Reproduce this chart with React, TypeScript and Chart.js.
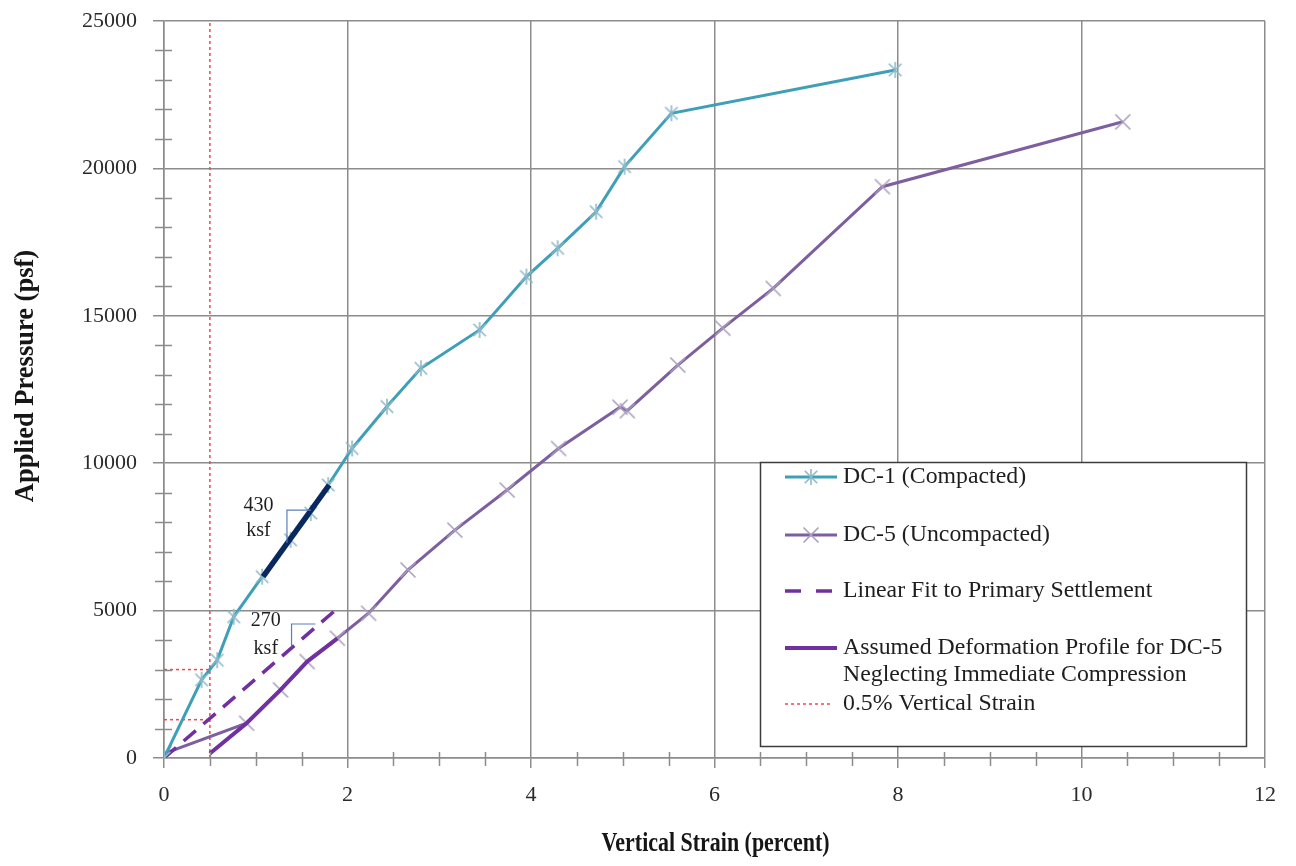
import React, { useEffect, useRef } from "react";
import { Chart, registerables } from "chart.js";

Chart.register(...registerables);

// ---------- data ----------
const dc1Strain = [0, 0.41, 0.58, 0.76, 1.07, 1.38, 1.6, 1.79, 2.05, 2.43, 2.8, 3.44, 3.95, 4.29, 4.71, 5.02, 5.53, 7.97];
const dc1Pressure = [0, 2650, 3320, 4790, 6150, 7400, 8310, 9260, 10500, 11920, 13220, 14520, 16330, 17290, 18530, 20060, 21870, 23340];

const dc5Strain = [0, 0.9, 1.27, 1.56, 1.89, 2.23, 2.66, 3.17, 3.74, 4.3, 4.97, 5.05, 5.6, 6.09, 6.64, 7.83, 10.45];
const dc5Pressure = [150, 1180, 2310, 3270, 4060, 4910, 6380, 7730, 9090, 10500, 11900, 11780, 13330, 14580, 15930, 19380, 21580];

const fitStrain = [0, 1.9];
const fitPressure = [0, 5100];

const assumedStrain = [0.5, 0.9, 1.27, 1.56, 1.89];
const assumedPressure = [150, 1180, 2310, 3270, 4060];

const stiffStrain = [1.08, 1.8];
const stiffPressure = [6150, 9260];

const vLineStrain = [0.5, 0.5];
const vLinePressure = [0, 25000];
const hLineHighStrain = [0, 0.5];
const hLineHighPressure = [3000, 3000];
const hLineLowStrain = [0, 0.5];
const hLineLowPressure = [1300, 1300];

const bracket430Strain = [1.34, 1.34, 1.6];
const bracket430Pressure = [7300, 8410, 8410];
const bracket270Strain = [1.39, 1.39, 1.65];
const bracket270Pressure = [3780, 4545, 4545];

const xTicks = [0, 2, 4, 6, 8, 10, 12];
const yTicks = [0, 5000, 10000, 15000, 20000, 25000];

const xTitle = "Vertical Strain (percent)";
const yTitle = "Applied Pressure (psf)";

const legendLabels = [
  ["DC-1 (Compacted)"],
  ["DC-5 (Uncompacted)"],
  ["Linear Fit to Primary Settlement"],
  ["Assumed Deformation Profile for DC-5", "Neglecting Immediate Compression"],
  ["0.5% Vertical Strain"],
];

const slopeNotes = [
  { x: 1.03, y: 8560, text: "430" },
  { x: 1.03, y: 7720, text: "ksf" },
  { x: 1.11, y: 4660, text: "270" },
  { x: 1.11, y: 3720, text: "ksf" },
];

// ---------- styles ----------
const C_DC1 = "#3f9fb7";
const C_DC1_MK = "#8db9c8";
const C_DC5 = "#7d5f9f";
const C_DC5_MK = "#ab9fbd";
const C_PURPLE = "#7030a0";
const C_NAVY = "#0a2860";
const C_RED = "#f04848";
const C_BRACKET = "#5a7fb8";
const C_GRID = "#8c8c8c";
const FONT = "'Liberation Serif', 'Times New Roman', serif";

const pts = (xs: number[], ys: number[]) => xs.map((x, i) => ({ x, y: ys[i] }));

function makeStar(color: string, size: number) {
  const c = document.createElement("canvas");
  c.width = size;
  c.height = size;
  const g = c.getContext("2d")!;
  g.strokeStyle = color;
  g.lineWidth = 1.6;
  const m = size / 2;
  const r = size / 2 - 1;
  g.beginPath();
  g.moveTo(m, m - r);
  g.lineTo(m, m + r);
  const d = r * 0.78;
  g.moveTo(m - d, m - d);
  g.lineTo(m + d, m + d);
  g.moveTo(m + d, m - d);
  g.lineTo(m - d, m + d);
  g.stroke();
  return c;
}

function makeX(color: string, size: number) {
  const c = document.createElement("canvas");
  c.width = size;
  c.height = size;
  const g = c.getContext("2d")!;
  g.strokeStyle = color;
  g.lineWidth = 1.6;
  const m = size / 2;
  const d = size / 2 - 1.5;
  g.beginPath();
  g.moveTo(m - d, m - d);
  g.lineTo(m + d, m + d);
  g.moveTo(m + d, m - d);
  g.lineTo(m - d, m + d);
  g.stroke();
  return c;
}

export default function App() {
  const ref = useRef<HTMLCanvasElement | null>(null);

  useEffect(() => {
    if (!ref.current) return;
    const star = makeStar(C_DC1_MK, 18);
    const xmk = makeX(C_DC5_MK, 18);

    const minorTicks = {
      id: "minorTicks",
      afterDatasetsDraw(chart: any) {
        const { ctx, scales } = chart;
        const xs = scales.x;
        const ys = scales.y;
        ctx.save();
        ctx.strokeStyle = C_GRID;
        ctx.lineWidth = 1.5;
        ctx.beginPath();
        for (let v = 0.5; v < 12; v += 0.5) {
          if (Math.abs(v % 2) < 1e-6) continue;
          const px = Math.round(xs.getPixelForValue(v)) + 0.5;
          ctx.moveTo(px, ys.bottom - 6);
          ctx.lineTo(px, ys.bottom + 8);
        }
        for (let v = 1000; v < 25000; v += 1000) {
          if (v % 5000 === 0) continue;
          const py = Math.round(ys.getPixelForValue(v)) + 0.5;
          ctx.moveTo(xs.left - 9, py);
          ctx.lineTo(xs.left + 8, py);
        }
        ctx.stroke();
        ctx.restore();
      },
    };

    const notes = {
      id: "notes",
      afterDatasetsDraw(chart: any) {
        const { ctx, scales } = chart;
        ctx.save();
        ctx.font = `20px ${FONT}`;
        ctx.fillStyle = "#1e1e1e";
        ctx.textAlign = "center";
        ctx.textBaseline = "middle";
        slopeNotes.forEach((n) => {
          const px = scales.x.getPixelForValue(n.x);
          const py = scales.y.getPixelForValue(n.y);
          ctx.fillText(n.text, px, py);
        });
        ctx.restore();
      },
    };

    const titles = {
      id: "titles",
      afterDraw(chart: any) {
        const { ctx, chartArea } = chart;
        ctx.save();
        ctx.fillStyle = "#161616";
        ctx.font = `bold 26.5px ${FONT}`;
        ctx.textAlign = "center";
        ctx.textBaseline = "alphabetic";
        const w = ctx.measureText(xTitle).width;
        const sx = 228 / w;
        ctx.save();
        ctx.translate((chartArea.left + chartArea.right) / 2 + 1, 851);
        ctx.scale(sx, 1);
        ctx.fillText(xTitle, 0, 0);
        ctx.restore();
        ctx.save();
        ctx.translate(33, 376);
        ctx.rotate(-Math.PI / 2);
        ctx.fillText(yTitle, 0, 0);
        ctx.restore();
        ctx.restore();
      },
    };

    const legendBox = {
      id: "legendBox",
      afterDraw(chart: any) {
        const ctx = chart.ctx;
        const L = 760, T = 462, R = 1246, B = 746;
        ctx.save();
        ctx.fillStyle = "#ffffff";
        ctx.fillRect(L, T, R - L, B - T);
        ctx.strokeStyle = "#3c3c3c";
        ctx.lineWidth = 1.5;
        ctx.strokeRect(L + 0.5, T + 0.5, R - L, B - T);

        const x0 = 785, x1 = 837, tx = 843;
        const rows = [477, 535, 591, 648, 704];
        ctx.lineCap = "butt";
        ctx.strokeStyle = C_DC1;
        ctx.lineWidth = 3;
        ctx.beginPath(); ctx.moveTo(x0, rows[0]); ctx.lineTo(x1, rows[0]); ctx.stroke();
        ctx.drawImage(star, (x0 + x1) / 2 - 9, rows[0] - 9);
        ctx.strokeStyle = C_DC5;
        ctx.beginPath(); ctx.moveTo(x0, rows[1]); ctx.lineTo(x1, rows[1]); ctx.stroke();
        ctx.drawImage(xmk, (x0 + x1) / 2 - 9, rows[1] - 9);
        ctx.strokeStyle = C_PURPLE;
        ctx.lineWidth = 3.5;
        ctx.setLineDash([16, 15]);
        ctx.beginPath(); ctx.moveTo(x0, rows[2]); ctx.lineTo(x1, rows[2]); ctx.stroke();
        ctx.setLineDash([]);
        ctx.lineWidth = 4;
        ctx.beginPath(); ctx.moveTo(x0, rows[3]); ctx.lineTo(x1, rows[3]); ctx.stroke();
        ctx.strokeStyle = C_RED;
        ctx.lineWidth = 1.5;
        ctx.setLineDash([3, 3]);
        ctx.beginPath(); ctx.moveTo(x0, rows[4]); ctx.lineTo(x1 - 4, rows[4]); ctx.stroke();
        ctx.setLineDash([]);

        ctx.fillStyle = "#1e1e1e";
        ctx.font = `23.8px ${FONT}`;
        ctx.textAlign = "left";
        ctx.textBaseline = "middle";
        legendLabels.forEach((lines, i) => {
          lines.forEach((s, j) => ctx.fillText(s, tx, rows[i] + j * 27));
        });
        ctx.restore();
      },
    };

    const line = (data: any, color: string, width: number, order: number, extra: any = {}) => ({
      data,
      borderColor: color,
      backgroundColor: color,
      borderWidth: width,
      pointRadius: 0,
      pointHoverRadius: 0,
      showLine: true,
      fill: false,
      tension: 0,
      order,
      ...extra,
    });

    const chart = new Chart(ref.current, {
      type: "scatter",
      data: {
        datasets: [
          line(pts(bracket430Strain, bracket430Pressure), C_BRACKET, 1.2, 0),
          line(pts(bracket270Strain, bracket270Pressure), C_BRACKET, 1.2, 1),
          line(pts(stiffStrain, stiffPressure), C_NAVY, 5.5, 2),
          line(pts(dc1Strain, dc1Pressure), C_DC1, 3, 3, { pointRadius: 9, pointStyle: star }),
          line(pts(assumedStrain, assumedPressure), C_PURPLE, 4, 4),
          line(pts(fitStrain, fitPressure), C_PURPLE, 3.5, 5, { borderDash: [16, 10] }),
          line(pts(dc5Strain, dc5Pressure), C_DC5, 3, 6, { pointRadius: 9, pointStyle: xmk }),
          line(pts(vLineStrain, vLinePressure), C_RED, 1.5, 7, { borderDash: [3, 3] }),
          line(pts(hLineHighStrain, hLineHighPressure), C_RED, 1.5, 8, { borderDash: [3, 3] }),
          line(pts(hLineLowStrain, hLineLowPressure), C_RED, 1.5, 9, { borderDash: [3, 3] }),
        ],
      },
      options: {
        animation: false,
        responsive: true,
        maintainAspectRatio: false,
        layout: { padding: { top: 21, right: 31, left: 0, bottom: 0 } },
        plugins: {
          legend: { display: false },
          tooltip: { enabled: false },
          title: { display: false },
        },
        scales: {
          x: {
            type: "linear",
            min: 0,
            max: 12,
            afterFit: (s: any) => {
              s.height = 108;
              s.paddingLeft = 0;
              s.paddingRight = 0;
            },
            afterBuildTicks: (s: any) => { s.ticks = xTicks.map((v) => ({ value: v })); },
            ticks: {
              autoSkip: false,
              maxRotation: 0,
              padding: 14,
              color: "#2a2a2a",
              font: { family: FONT, size: 22 },
              callback: (v: any) => String(v),
            },
            grid: { color: C_GRID, lineWidth: 1.5, tickLength: 10, tickColor: C_GRID, drawTicks: true },
            border: { display: true, color: C_GRID, width: 1.5 },
            title: { display: false },
          },
          y: {
            type: "linear",
            min: 0,
            max: 25000,
            afterFit: (s: any) => {
              s.width = 164;
              s.paddingTop = 0;
              s.paddingBottom = 0;
            },
            afterBuildTicks: (s: any) => { s.ticks = yTicks.map((v) => ({ value: v })); },
            ticks: {
              autoSkip: false,
              padding: 16,
              color: "#2a2a2a",
              font: { family: FONT, size: 22 },
              callback: (v: any) => String(v),
            },
            grid: { color: C_GRID, lineWidth: 1.5, tickLength: 11, tickColor: C_GRID, drawTicks: true },
            border: { display: true, color: C_GRID, width: 1.5 },
            title: { display: false },
          },
        },
      },
      plugins: [minorTicks, notes, legendBox, titles],
    } as any);

    return () => chart.destroy();
  }, []);

  return (
    <div style={{ position: "fixed", left: 0, top: 0, width: 1296, height: 866, background: "#ffffff" }}>
      <canvas ref={ref} />
    </div>
  );
}
